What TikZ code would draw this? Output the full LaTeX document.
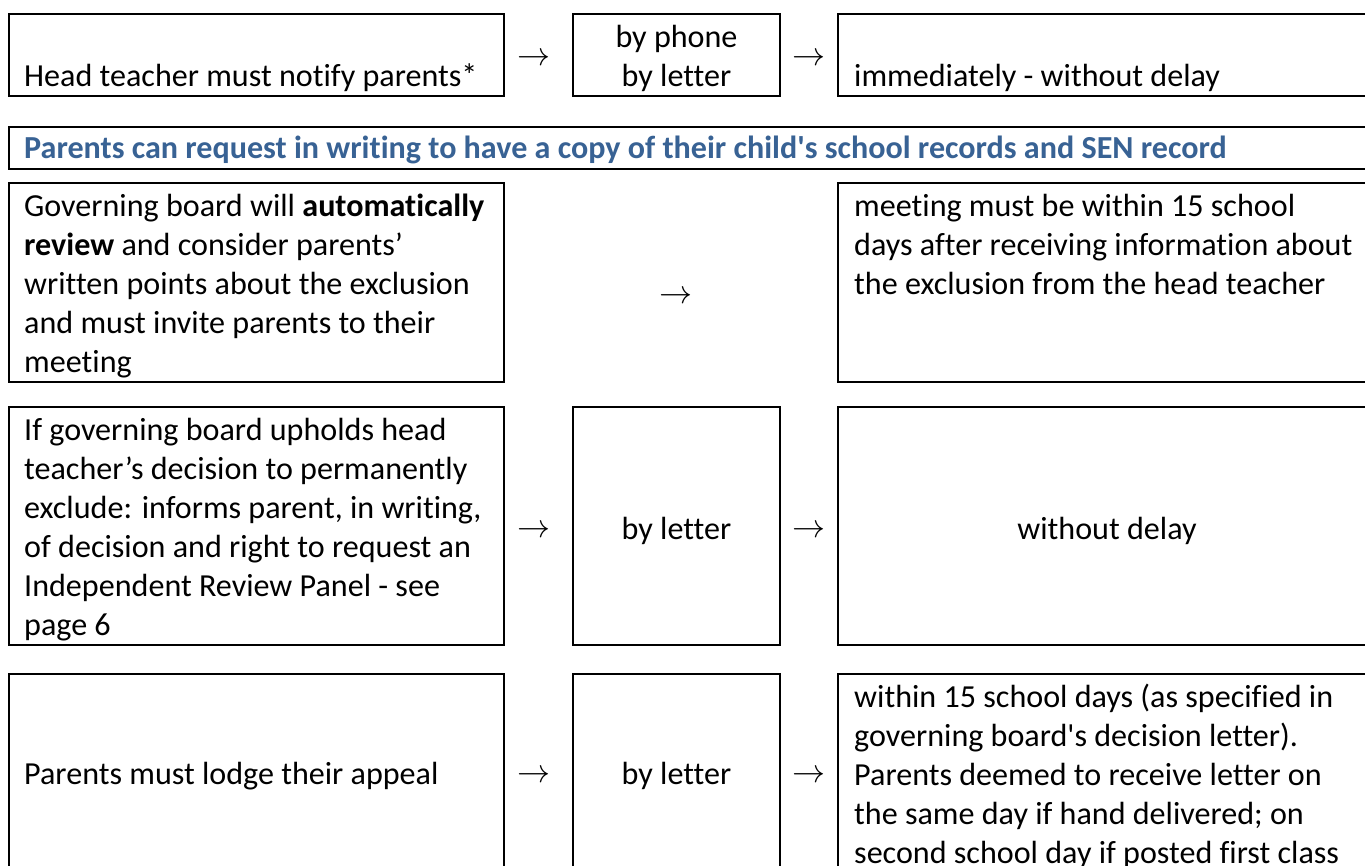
\documentclass[tikz,border=0pt]{standalone}
\usepackage{fontspec}
\setmainfont{Carlito}[Ligatures={TeXOff,CommonOff}]
\definecolor{headblue}{RGB}{56,98,148}
\newcommand{\rarr}{\scalebox{3.3}{\(\rightarrow\)}}
\begin{document}
\begin{tikzpicture}[x=1pt, y=-1pt,
    box/.style={rectangle, draw, line width=2.8pt, inner sep=0pt, outer sep=0pt, anchor=north west},
    txt/.style={anchor=north west, inner sep=0pt, align=left, font=\fontsize{32.1}{39}\selectfont, execute at begin node=\strut},
    ctxt/.style={txt, anchor=north, align=center},
    arr/.style={inner sep=0pt}
]
\useasboundingbox (0,0) rectangle (1365,865);
\clip (0,0) rectangle (1365,865);

% Row 1
\node[box, minimum width=495, minimum height=82] (notify) at (9,14) {};
\node[box, minimum width=207, minimum height=82] (phone) at (573,14) {};
\node[box, minimum width=538, minimum height=82] (immediately) at (838,14) {};
\node[txt] (notify-txt) at (24,58.8) {Head teacher must notify parents*};
\node[ctxt] (phone-txt) at (676.5,19.8) {\strut by phone\\by letter};
\node[txt] (immediately-txt) at (854,58.8) {immediately - without delay};
\node[arr] (arr1) at (534,59) {\rarr};
\node[arr] (arr2) at (809,59) {\rarr};

% Header
\node[box, minimum width=1367, minimum height=42] (request) at (9,127) {};
\node[txt, font=\fontsize{32.1}{39}\selectfont\bfseries, text=headblue] (request-txt) at (24,130.5)
  {Parents can request in writing to have a copy of their child's school records and SEN record};

% Row 2
\node[box, minimum width=495, minimum height=199] (review) at (9,183) {};
\node[box, minimum width=538, minimum height=199] (meeting) at (838,183) {};
\node[txt] (review-txt) at (24,188.8) {\strut Governing board will \textbf{automatically}\\\textbf{review} and consider parents’\\written points about the exclusion\\and must invite parents to their\\meeting};
\node[txt] (meeting-txt) at (854,188.8) {\strut meeting must be within 15 school\\days after receiving information about\\the exclusion from the head teacher};
\node[arr] (arr3) at (676,297) {\rarr};

% Row 3
\node[box, minimum width=495, minimum height=238] (upholds) at (9,407) {};
\node[box, minimum width=207, minimum height=238] (letter) at (573,407) {};
\node[box, minimum width=538, minimum height=238] (nodelay) at (838,407) {};
\node[txt] (upholds-txt) at (24,412.8) {\strut If governing board upholds head\\teacher’s decision to permanently\\exclude: informs parent, in writing,\\of decision and right to request an\\Independent Review Panel - see\\page 6};
\node[ctxt] (letter-txt) at (676.5,511.8) {by letter};
\node[ctxt] (nodelay-txt) at (1107,511.8) {without delay};
\node[arr] (arr4) at (534,531) {\rarr};
\node[arr] (arr5) at (809,531) {\rarr};

% Row 4
\node[box, minimum width=495, minimum height=210] (appeal) at (9,674) {};
\node[box, minimum width=207, minimum height=210] (post) at (573,674) {};
\node[box, minimum width=538, minimum height=210] (within) at (838,674) {};
\node[txt] (appeal-txt) at (24,756.8) {Parents must lodge their appeal};
\node[ctxt] (post-txt) at (676.5,756.8) {by letter};
\node[txt] (within-txt) at (854,679.8) {\strut within 15 school days (as specified in\\governing board's decision letter).\\Parents deemed to receive letter on\\the same day if hand delivered; on\\second school day if posted first class};
\node[arr] (arr6) at (534,776) {\rarr};
\node[arr] (arr7) at (809,776) {\rarr};
\end{tikzpicture}
\end{document}
